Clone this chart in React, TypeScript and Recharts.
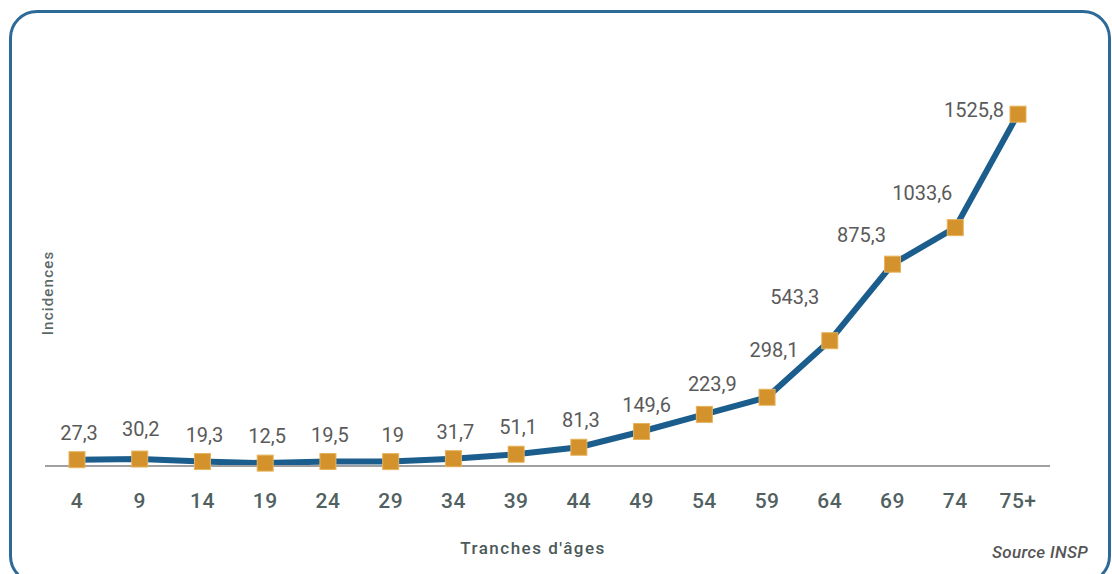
import React from "react";
import { LineChart, Line, XAxis, YAxis, LabelList } from "recharts";

const ageGroups = ["4", "9", "14", "19", "24", "29", "34", "39", "44", "49", "54", "59", "64", "69", "74", "75+"];
const incidences = [27.3, 30.2, 19.3, 12.5, 19.5, 19, 31.7, 51.1, 81.3, 149.6, 223.9, 298.1, 543.3, 875.3, 1033.6, 1525.8];
const yDomain = [0, 1700];

const data = ageGroups.map((age, i) => ({ age, value: incidences[i] }));

const fmt = (v: number) => String(v).replace(".", ",");

const labelShift = (i: number): [number, number] => {
  if (i === 15) return [-44, -4];
  if (i === 14) return [-33, -35];
  if (i === 13) return [-31, -29];
  if (i === 12) return [-35, -44];
  if (i === 11) return [7, -47];
  if (i === 10) return [8, -30];
  if (i === 9) return [5, -27];
  if (i === 1) return [1, -30];
  return [2, -27];
};

const ValueLabel = (props: any) => {
  const { x, y, index, value } = props;
  const [dx, dy] = labelShift(index);
  return (
    <text
      x={x + dx}
      y={y + dy}
      textAnchor="middle"
      dominantBaseline="central"
      fontFamily="Roboto, sans-serif"
      fontSize={20}
      fill="#5a5a5a"
    >
      {fmt(value)}
    </text>
  );
};

const SquareDot = (props: any) => {
  const { cx, cy } = props;
  if (cx == null || cy == null) return null;
  return <rect x={cx - 8} y={cy - 8} width={16} height={16} fill="#d3922c" stroke="#e6b35c" strokeWidth={1} />;
};

const AgeTick = (props: any) => {
  const { x, y, payload } = props;
  return (
    <text
      x={x}
      y={y + 42}
      textAnchor="middle"
      fontFamily="Roboto, sans-serif"
      fontWeight={500}
      fontSize={21}
      letterSpacing={0.5}
      fill="#516060"
    >
      {payload.value}
    </text>
  );
};

export default function App() {
  return (
    <div style={{ position: "absolute", left: 0, top: 0, width: 1112, height: 574, overflow: "hidden", background: "#fff" }}>
      <div
        style={{
          position: "absolute",
          left: 9,
          top: 10,
          width: 1096,
          height: 568,
          border: "3px solid #2d6a98",
          borderRadius: 28,
        }}
      />
      <div style={{ position: "absolute", left: 0, top: 0 }}>
        <LineChart width={1112} height={574} data={data} margin={{ top: 74, right: 62, bottom: 68, left: 45 }}>
          <XAxis
            dataKey="age"
            height={40}
            padding={{ left: 32, right: 32 }}
            tickLine={false}
            tickSize={0}
            tickMargin={0}
            axisLine={{ stroke: "#a0a0a0", strokeWidth: 2 }}
            tick={<AgeTick />}
            interval={0}
          />
          <YAxis hide domain={yDomain} />
          <Line
            type="linear"
            dataKey="value"
            stroke="#1b5d8c"
            strokeWidth={6}
            dot={<SquareDot />}
            activeDot={false}
            isAnimationActive={false}
          >
            <LabelList dataKey="value" content={<ValueLabel />} />
          </Line>
        </LineChart>
      </div>
      <div
        style={{
          position: "absolute",
          left: 48,
          top: 293,
          transform: "translate(-50%, -50%) rotate(-90deg)",
          fontFamily: "Roboto, sans-serif",
          fontWeight: 500,
          fontSize: 15,
          letterSpacing: 1.2,
          color: "#5b6868",
          whiteSpace: "nowrap",
        }}
      >
        Incidences
      </div>
      <div
        style={{
          position: "absolute",
          left: 533,
          top: 548,
          transform: "translate(-50%, -50%)",
          fontFamily: "Roboto, sans-serif",
          fontWeight: 500,
          fontSize: 17,
          letterSpacing: 1.5,
          color: "#4b5959",
          whiteSpace: "nowrap",
        }}
      >
        Tranches d'âges
      </div>
      <div
        style={{
          position: "absolute",
          right: 24,
          top: 552,
          transform: "translateY(-50%)",
          fontFamily: "Roboto, sans-serif",
          fontStyle: "italic",
          fontWeight: 500,
          fontSize: 17,
          letterSpacing: 0.3,
          color: "#555",
          whiteSpace: "nowrap",
        }}
      >
        Source INSP
      </div>
    </div>
  );
}
